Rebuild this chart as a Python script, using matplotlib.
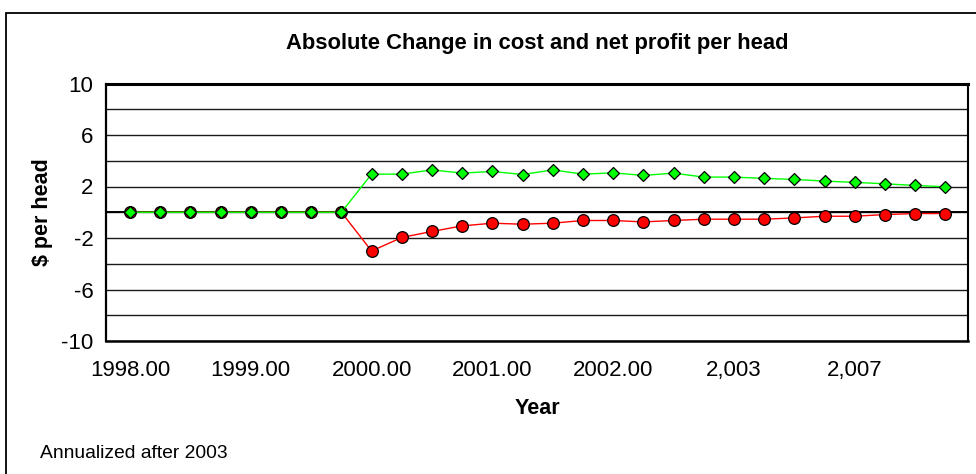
"""Absolute change in cost and net profit per head, Excel-style line chart -> out.png"""

import matplotlib.pyplot as plt
from matplotlib.patches import Rectangle

# one point per period; tick labels only every fourth category
profit_change = [0, 0, 0, 0, 0, 0, 0, 0,
                 2.96, 2.96, 3.29, 3.04, 3.17, 2.93, 3.29, 2.96, 3.06, 2.86,
                 3.04, 2.73, 2.73, 2.63, 2.55, 2.42, 2.32, 2.21, 2.08, 1.98]
cost_change = [0, 0, 0, 0, 0, 0, 0, 0,
               -3.01, -1.96, -1.49, -1.06, -0.85, -0.93, -0.85, -0.64, -0.64, -0.75,
               -0.64, -0.54, -0.54, -0.54, -0.44, -0.31, -0.31, -0.18, -0.10, -0.10]
x_labels = ["1998.00", "1999.00", "2000.00", "2001.00", "2002.00", "2,003", "2,007"]
y_labels = [-10, -6, -2, 2, 6, 10]
y_grid = [-8, -4, 0, 4, 8]

plt.rcParams["font.family"] = ["Liberation Sans", "DejaVu Sans"]
plt.rcParams["axes.unicode_minus"] = False


def main() -> None:
    fig = plt.figure(figsize=(9.76, 4.74), dpi=100)
    ax = fig.add_axes([106 / 976, 1 - 341 / 474, 862 / 976, 257.5 / 474])

    x = list(range(len(profit_change)))
    ax.plot(x, cost_change, color="#ff0000", lw=1.0, marker="o", ms=8.4,
            mfc="#ff0000", mec="black", mew=0.9, zorder=3)
    ax.plot(x, profit_change, color="#00ff00", lw=1.0, marker="D", ms=6.3,
            mfc="#00ff00", mec="black", mew=0.9, zorder=4)

    ax.set_xlim(-0.795, 27.75)
    ax.set_ylim(-10, 10)
    ax.set_xticks(range(0, len(x), 4))
    ax.set_xticklabels(x_labels)
    ax.set_yticks(y_labels)
    ax.set_yticks(y_grid, minor=True)
    ax.tick_params(axis="both", which="both", length=0, labelsize=16)
    ax.tick_params(axis="x", pad=14)
    ax.tick_params(axis="y", pad=9)
    ax.grid(axis="y", which="both", color="#1a1a1a", lw=1.0)
    ax.set_axisbelow(True)
    ax.axhline(0, color="black", lw=1.4, zorder=2)

    for side, lw in (("left", 1.6), ("right", 1.5), ("top", 2.2), ("bottom", 1.8)):
        ax.spines[side].set_linewidth(lw)
        ax.spines[side].set_color("black")

    ax.set_xlabel("Year", fontsize=15.5, fontweight="bold", labelpad=12)
    ax.set_ylabel("$ per head", fontsize=15.5, fontweight="bold", labelpad=6)

    fig.text(537 / 976, 1 - 43.5 / 474, "Absolute Change in cost and net profit per head",
             ha="center", va="center", fontsize=15.8, fontweight="bold")
    fig.text(40 / 976, 1 - 453 / 474, "Annualized after 2003",
             ha="left", va="center", fontsize=13.9)

    # chart-area frame, cut off at the right and bottom like the source
    fig.patches.append(Rectangle((5.5 / 976, -0.05), 1.0, 1 - 13 / 474 + 0.05,
                                 transform=fig.transFigure, fill=False,
                                 edgecolor="black", lw=1.3))

    fig.savefig("out.png", dpi=100)


if __name__ == "__main__":
    main()
